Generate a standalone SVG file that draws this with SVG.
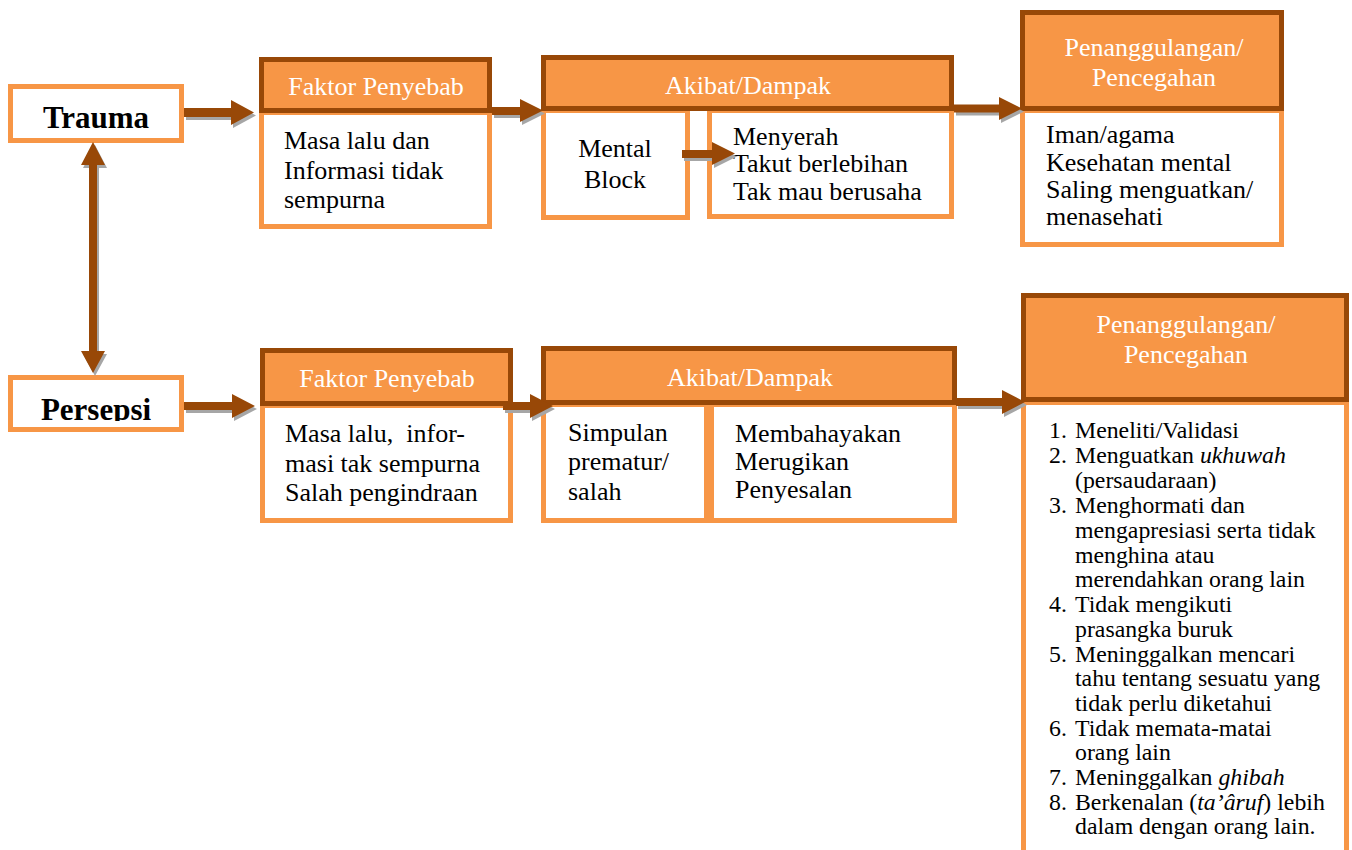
<svg xmlns="http://www.w3.org/2000/svg" width="1352" height="850" viewBox="0 0 1352 850">
<style>
.bg{fill:#ffffff}
.hd{fill:#F79646;stroke:#984807;stroke-width:5}
.bd{fill:#ffffff;stroke:#F79646;stroke-width:5}
.ht{font-family:"Liberation Serif","Times New Roman",serif;font-size:26px;fill:#ffffff}
.tx{font-family:"Liberation Serif","Times New Roman",serif;font-size:26px;fill:#000000}
.ls{font-family:"Liberation Serif","Times New Roman",serif;font-size:23.8px;fill:#000000}
.bt{font-family:"Liberation Serif","Times New Roman",serif;font-size:31px;font-weight:bold;fill:#000000}
.ar{fill:#984807}
.sh{fill:#A6A6A6}
</style>
<defs>
<clipPath id="clipPer"><rect x="0" y="370" width="200" height="51"/></clipPath>
</defs>
<rect class="bg" x="0" y="0" width="1352" height="850"/>

<g id="trauma">
<rect class="bd" x="10.5" y="86.5" width="171" height="54"/>
<text class="bt" x="96" y="128" text-anchor="middle">Trauma</text>
</g>

<g id="persepsi">
<rect class="bd" x="10.5" y="377.5" width="171" height="52"/>
<text class="bt" x="96" y="420" text-anchor="middle" clip-path="url(#clipPer)">Persepsi</text>
</g>

<g id="faktor1">
<rect class="bd" x="261.5" y="112.5" width="228" height="114"/>
<rect class="hd" x="261.5" y="59.5" width="228" height="51"/>
<text class="ht" x="376" y="95" text-anchor="middle">Faktor Penyebab</text>
<text class="tx" x="284" y="149">Masa lalu dan</text>
<text class="tx" x="284" y="179">Informasi tidak</text>
<text class="tx" x="284" y="208">sempurna</text>
</g>

<g id="akibat1">
<rect class="bd" x="543.5" y="110.5" width="144" height="107"/>
<rect class="bd" x="709.5" y="110.5" width="242" height="106"/>
<rect class="hd" x="543.5" y="57.5" width="408" height="51"/>
<text class="ht" x="748" y="94" text-anchor="middle">Akibat/Dampak</text>
<text class="tx" x="615" y="157" text-anchor="middle">Mental</text>
<text class="tx" x="615" y="188" text-anchor="middle">Block</text>
<text class="tx" x="733" y="145">Menyerah</text>
<text class="tx" x="733" y="172">Takut berlebihan</text>
<text class="tx" x="733" y="200">Tak mau berusaha</text>
</g>

<g id="penanggulangan1">
<rect class="bd" x="1022.5" y="110.5" width="259" height="134"/>
<rect class="hd" x="1022.5" y="12.5" width="259" height="96"/>
<text class="ht" x="1154" y="56" text-anchor="middle">Penanggulangan/</text>
<text class="ht" x="1154" y="86" text-anchor="middle">Pencegahan</text>
<text class="tx" x="1046" y="143">Iman/agama</text>
<text class="tx" x="1046" y="171">Kesehatan mental</text>
<text class="tx" x="1046" y="198">Saling menguatkan/</text>
<text class="tx" x="1046" y="225">menasehati</text>
</g>

<g id="faktor2">
<rect class="bd" x="262.5" y="405.5" width="248" height="115"/>
<rect class="hd" x="262.5" y="350.5" width="248" height="53"/>
<text class="ht" x="387" y="387" text-anchor="middle">Faktor Penyebab</text>
<text class="tx" x="285" y="442" xml:space="preserve">Masa lalu,  infor-</text>
<text class="tx" x="285" y="472">masi tak sempurna</text>
<text class="tx" x="285" y="501">Salah pengindraan</text>
</g>

<g id="akibat2">
<rect class="bd" x="543.5" y="404.5" width="163" height="116"/>
<rect class="bd" x="711.5" y="404.5" width="243" height="116"/>
<rect class="hd" x="543.5" y="348.5" width="411" height="54"/>
<text class="ht" x="750" y="386" text-anchor="middle">Akibat/Dampak</text>
<text class="tx" x="568" y="441">Simpulan</text>
<text class="tx" x="568" y="470">prematur/</text>
<text class="tx" x="568" y="500">salah</text>
<text class="tx" x="735" y="442">Membahayakan</text>
<text class="tx" x="735" y="470">Merugikan</text>
<text class="tx" x="735" y="498">Penyesalan</text>
</g>

<g id="penanggulangan2">
<rect class="bd" x="1023.5" y="402.5" width="323" height="470"/>
<rect class="hd" x="1023.5" y="295.5" width="323" height="104"/>
<text class="ht" x="1186" y="333" text-anchor="middle">Penanggulangan/</text>
<text class="ht" x="1186" y="363" text-anchor="middle">Pencegahan</text>
<text class="ls" y="438"><tspan x="1049">1.</tspan><tspan x="1075">Meneliti/Validasi</tspan></text>
<text class="ls" y="463"><tspan x="1049">2.</tspan><tspan x="1075">Menguatkan </tspan><tspan font-style="italic">ukhuwah</tspan></text>
<text class="ls" x="1075" y="488">(persaudaraan)</text>
<text class="ls" y="513"><tspan x="1049">3.</tspan><tspan x="1075">Menghormati dan</tspan></text>
<text class="ls" x="1075" y="538">mengapresiasi serta tidak</text>
<text class="ls" x="1075" y="563">menghina atau</text>
<text class="ls" x="1075" y="587">merendahkan orang lain</text>
<text class="ls" y="612"><tspan x="1049">4.</tspan><tspan x="1075">Tidak mengikuti</tspan></text>
<text class="ls" x="1075" y="637">prasangka buruk</text>
<text class="ls" y="662"><tspan x="1049">5.</tspan><tspan x="1075">Meninggalkan mencari</tspan></text>
<text class="ls" x="1075" y="686">tahu tentang sesuatu yang</text>
<text class="ls" x="1075" y="711">tidak perlu diketahui</text>
<text class="ls" y="736"><tspan x="1049">6.</tspan><tspan x="1075">Tidak memata-matai</tspan></text>
<text class="ls" x="1075" y="760">orang lain</text>
<text class="ls" y="785"><tspan x="1049">7.</tspan><tspan x="1075">Meninggalkan </tspan><tspan font-style="italic">ghibah</tspan></text>
<text class="ls" y="810"><tspan x="1049">8.</tspan><tspan x="1075">Berkenalan (</tspan><tspan font-style="italic">ta’âruf</tspan><tspan>) lebih</tspan></text>
<text class="ls" x="1075" y="834">dalam dengan orang lain.</text>
</g>

<g id="connectors">
<!-- Trauma -> Faktor1 -->
<polygon class="sh" transform="translate(2,3)" points="184,108 231,108 231,100 254,112.5 231,125 231,117 184,117"/>
<polygon class="ar" points="184,108 231,108 231,100 254,112.5 231,125 231,117 184,117"/>
<!-- Faktor1 -> Akibat1 -->
<polygon class="sh" transform="translate(2,3)" points="492,107 520,107 520,99 543,110.5 520,122 520,115 492,115"/>
<polygon class="ar" points="492,107 520,107 520,99 543,110.5 520,122 520,115 492,115"/>
<!-- Mental Block -> Menyerah -->
<polygon class="sh" transform="translate(2,3)" points="682,150 712,150 712,142 735,153.5 712,165 712,158 682,158"/>
<polygon class="ar" points="682,150 712,150 712,142 735,153.5 712,165 712,158 682,158"/>
<!-- Akibat1 -> Penanggulangan1 -->
<polygon class="sh" transform="translate(2,3)" points="954,104.5 999,104.5 999,97 1022,108.5 999,120 999,112.5 954,112.5"/>
<polygon class="ar" points="954,104.5 999,104.5 999,97 1022,108.5 999,120 999,112.5 954,112.5"/>
<!-- Trauma <-> Persepsi -->
<polygon class="sh" transform="translate(2,3)" points="93,142 105,165 97,165 97,351 105,351 93,373 81,351 89,351 89,165 81,165"/>
<polygon class="ar" points="93,142 105,165 97,165 97,351 105,351 93,373 81,351 89,351 89,165 81,165"/>
<!-- Persepsi -> Faktor2 -->
<polygon class="sh" transform="translate(2,3)" points="184,402 232,402 232,394 255,406 232,418 232,410 184,410"/>
<polygon class="ar" points="184,402 232,402 232,394 255,406 232,418 232,410 184,410"/>
<!-- Faktor2 -> Akibat2 -->
<polygon class="sh" transform="translate(2,3)" points="503,402 530,402 530,394 553,406 530,418 530,410 503,410"/>
<polygon class="ar" points="503,402 530,402 530,394 553,406 530,418 530,410 503,410"/>
<!-- Akibat2 -> Penanggulangan2 -->
<polygon class="sh" transform="translate(2,3)" points="956,398 1002,398 1002,390 1025,402 1002,414 1002,406 956,406"/>
<polygon class="ar" points="956,398 1002,398 1002,390 1025,402 1002,414 1002,406 956,406"/>
</g>
</svg>
